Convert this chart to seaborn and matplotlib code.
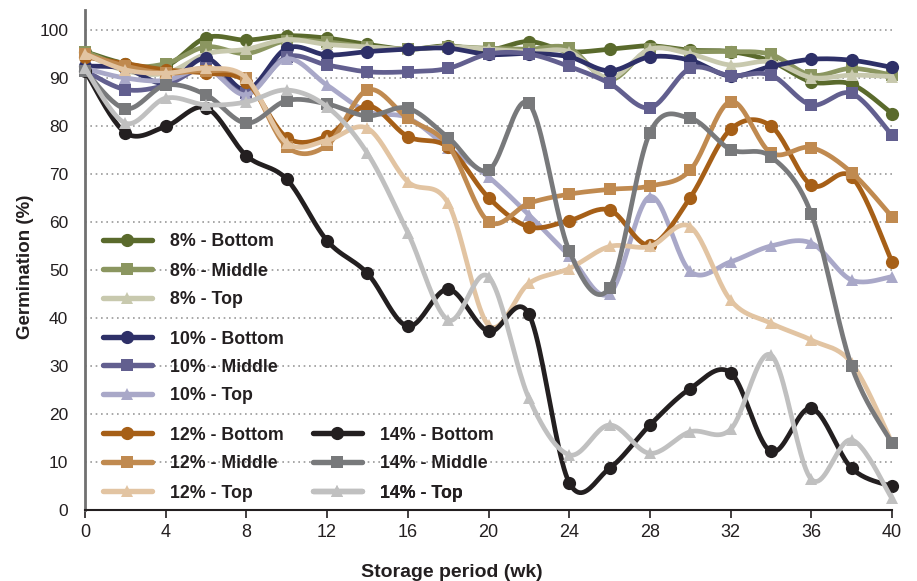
import numpy as np
import pandas as pd
import matplotlib
matplotlib.use("Agg")
import matplotlib.pyplot as plt
from matplotlib.lines import Line2D
import seaborn as sns

# ---------------- data ----------------
weeks = list(range(0, 41, 2))

b8 = [95.5, 93, 92.5, 98.4, 97.9, 98.8, 98.3, 97, 96, 96.7, 95.8, 97.6, 95.5, 96, 96.7, 95.8, 95.5, 93.5, 89.2, 88.7, 82.6]
m8 = [95.5, 92.5, 93, 96.5, 95.1, 97.8, 97.5, 96.5, 96, 96.5, 96.2, 96, 96.2, 89.6, 96, 95.5, 95.5, 94.9, 90.6, 92, 90.6]
t8 = [95, 91.5, 91, 95, 96, 98, 97, 96.5, 96, 96.5, 96, 95.5, 95.5, 90, 96, 95, 92.7, 93.4, 90.1, 90.6, 90.3]

b10 = [92.5, 92, 88.9, 94.1, 87.5, 96.2, 94.8, 95.5, 96, 96.2, 94.9, 95.1, 94.4, 91.5, 94.4, 93.7, 90.4, 92.4, 93.9, 93.7, 92.2]
m10 = [91.5, 87.6, 88.5, 92, 86.8, 94.4, 92.7, 91.3, 91.3, 92, 95, 95, 92.4, 88.9, 83.8, 92, 90.5, 90.6, 84.4, 86.8, 78.1]
t10 = [92, 90, 89.5, 92, 86.5, 94, 88.5, 83, 81.7, 75.5, 69.4, 61.5, 53, 45.1, 65.3, 49.7, 51.7, 55, 55.6, 47.9, 48.6]

b12 = [94.4, 93, 91.7, 91, 89.2, 77.6, 77.9, 84.2, 77.8, 75.6, 65.1, 59, 60.3, 62.5, 55.2, 65.1, 79.3, 80, 67.7, 69.4, 51.7]
m12 = [95, 92.5, 91, 91.5, 89.9, 75.7, 76, 87.5, 81.6, 76, 60.1, 63.9, 65.8, 66.8, 67.5, 70.8, 85.1, 74.4, 75.5, 70.3, 61.1]
t12 = [95, 91.7, 91, 92, 90, 76.5, 77, 79.5, 68.4, 63.9, 38.5, 47.2, 50.3, 54.9, 54.9, 59, 43.7, 38.9, 35.4, 30.6, 14]

b14 = [91.5, 78.6, 79.9, 83.8, 73.8, 68.9, 56.1, 49.3, 38.3, 46, 37.2, 40.8, 5.7, 8.7, 17.7, 25.3, 28.6, 12.2, 21.2, 8.7, 4.9]
m14 = [91.5, 83.6, 88.5, 86.5, 80.6, 85.3, 84.6, 82.1, 83.7, 77.6, 70.8, 84.7, 54, 46.3, 78.6, 81.6, 75.1, 73.6, 61.7, 29.9, 13.9]
t14 = [92, 80.6, 85.8, 84.4, 85, 87.5, 84, 74.3, 57.8, 39.6, 48.6, 23.3, 11.5, 17.7, 11.8, 16.3, 16.8, 32.3, 6.4, 14.6, 2.4]

labels = ["8% - Bottom", "8% - Middle", "8% - Top",
          "10% - Bottom", "10% - Middle", "10% - Top",
          "12% - Bottom", "12% - Middle", "12% - Top",
          "14% - Bottom", "14% - Middle", "14% - Top"]
series = [b8, m8, t8, b10, m10, t10, b12, m12, t12, b14, m14, t14]
colors = ["#5a6a2c", "#8b9660", "#c8c9ae",
          "#2e3068", "#625f8f", "#a9a8c8",
          "#a65f17", "#c08a50", "#e2c4a2",
          "#231f20", "#78797b", "#c0c0c0"]
markers = ["o", "s", "^"] * 4
x_ticks = list(range(0, 41, 4))
y_ticks = list(range(0, 101, 10))


def smooth(x, y, n=24):
    """Excel-style smoothed line (cubic Bezier through the points)."""
    x = np.asarray(x, float)
    y = np.asarray(y, float)
    P = np.column_stack([x, y])
    Pe = np.vstack([P[0], P, P[-1]])
    out = []
    t = np.linspace(0, 1, n)[:, None]
    for i in range(len(P) - 1):
        p0 = Pe[i + 1]
        p3 = Pe[i + 2]
        c1 = p0 + (Pe[i + 2] - Pe[i]) / 6.0
        c2 = p3 - (Pe[i + 3] - Pe[i + 1]) / 6.0
        seg = ((1 - t) ** 3) * p0 + 3 * ((1 - t) ** 2) * t * c1 + 3 * (1 - t) * t ** 2 * c2 + t ** 3 * p3
        out.append(seg if i == 0 else seg[1:])
    out = np.vstack(out)
    return out[:, 0], out[:, 1]


sns.set_theme(style="white")
plt.rcParams["font.family"] = ["Liberation Sans", "DejaVu Sans"]

W, H = 917, 581
fig = plt.figure(figsize=(W / 100, H / 100), dpi=100)
ax_l, ax_r, ax_b, ax_t = 85, 892, 510, 10
ax = fig.add_axes([ax_l / W, (H - ax_b) / H, (ax_r - ax_l) / W, (ax_b - ax_t) / H])
ax.set_xlim(0, 40)
ax.set_ylim(0, 100 * (ax_b - ax_t) / (ax_b - 30))

# gridlines
for v in y_ticks[1:]:
    ax.axhline(v, color="#9a9a9a", lw=1.2, ls=(0, (1, 2.2)), zorder=0.5)

lw = 3.4
msz = {"o": 9.5, "s": 8.6, "^": 9.2}
for k, (lab, vals, col, mk) in enumerate(zip(labels, series, colors, markers)):
    sx, sy = smooth(weeks, vals)
    df = pd.DataFrame({"x": sx, "y": sy})
    sns.lineplot(data=df, x="x", y="y", ax=ax, color=col, lw=lw, sort=False,
                 estimator=None, zorder=2 + k, clip_on=False, solid_capstyle="round")
    ax.plot(weeks, vals, ls="none", marker=mk, ms=msz[mk], color=col,
            mec=col, mew=0, zorder=2.5 + k, clip_on=False)

# axes styling
ax.set_xticks(x_ticks)
ax.set_yticks(y_ticks)
ax.set_xticklabels([str(v) for v in x_ticks], fontsize=13, color="#231f20")
ax.set_yticklabels([str(v) for v in y_ticks], fontsize=12.5, color="#231f20")
ax.tick_params(axis="x", direction="out", length=6, width=1.2, color="#231f20", pad=4, bottom=True)
ax.tick_params(axis="y", length=0, pad=12)
for s in ["top", "right"]:
    ax.spines[s].set_visible(False)
ax.spines["left"].set_color("#707070")
ax.spines["left"].set_linewidth(2.0)
ax.spines["bottom"].set_color("#231f20")
ax.spines["bottom"].set_linewidth(1.5)
ax.spines["bottom"].set_zorder(30)
ax.grid(False)

ax.set_xlabel("Storage period (wk)", fontsize=14, fontweight="bold", color="#231f20")
ax.xaxis.set_label_coords((452 - ax_l) / (ax_r - ax_l), (ax_b - 564) / (ax_b - ax_t))
ax.set_ylabel("Germination (%)", fontsize=13.5, fontweight="bold", color="#231f20")
ax.yaxis.set_label_coords((34 - ax_l) / (ax_r - ax_l), (ax_b - 267) / (ax_b - ax_t))

# legend: one entry per row, placed like the reference
rows = [242, 271, 300, 339, 367, 396, 435, 464, 493, 435, 464, 493]
cols = [103] * 9 + [313] * 3
for k, (lab, col, mk) in enumerate(zip(labels, colors, markers)):
    h = Line2D([], [], color=col, lw=lw + 0.5, marker=mk, ms=msz[mk], mew=0)
    leg = ax.legend(handles=[h], labels=[lab], loc="center left",
                    bbox_to_anchor=((cols[k] - ax_l) / (ax_r - ax_l), (ax_b - rows[k]) / (ax_b - ax_t)),
                    frameon=False, borderpad=0, borderaxespad=0, handlelength=2.75,
                    handletextpad=1.0, prop={"size": 12.8, "weight": "bold"})
    for t in leg.get_texts():
        t.set_color("#231f20")
    leg.set_zorder(40)
    ax.add_artist(leg)

fig.savefig("out.png", dpi=100)
